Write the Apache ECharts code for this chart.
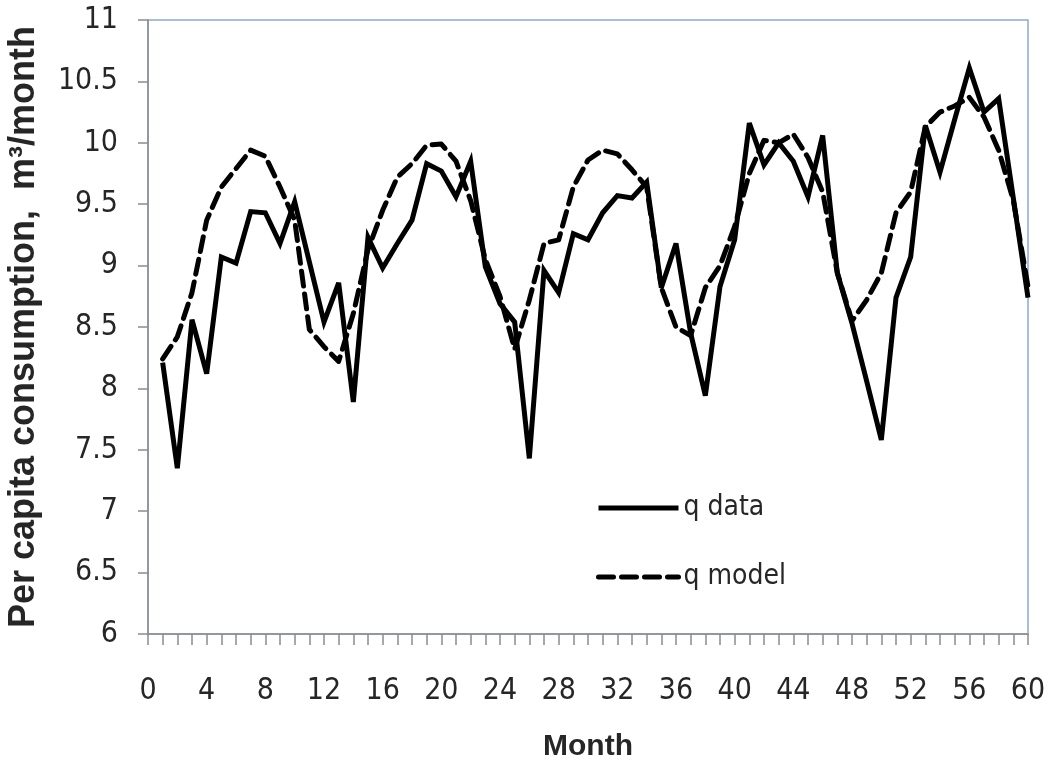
<!DOCTYPE html>
<html>
<head>
<meta charset="utf-8">
<script src="https://cdn.jsdelivr.net/npm/echarts@6/dist/echarts.min.js"></script>
<style>
html,body{margin:0;padding:0;background:#fff;}
#chart{width:1048px;height:761px;}
</style>
</head>
<body>
<div id="chart"></div>
<script>
var months = [1,2,3,4,5,6,7,8,9,10,11,12,13,14,15,16,17,18,19,20,
              21,22,23,24,25,26,27,28,29,30,31,32,33,34,35,36,37,38,39,40,
              41,42,43,44,45,46,47,48,49,50,51,52,53,54,55,56,57,58,59,60];
var qData = [8.21,7.35,8.56,8.12,9.07,9.02,9.44,9.43,9.18,9.52,
             9.03,8.54,8.86,7.89,9.23,8.98,9.18,9.37,9.83,9.77,
             9.56,9.85,8.99,8.69,8.54,7.43,8.96,8.78,9.26,9.21,
             9.43,9.57,9.55,9.68,8.82,9.18,8.45,7.94,8.83,9.21,
             10.16,9.82,10.0,9.85,9.56,10.06,8.94,8.53,8.06,7.58,
             8.74,9.07,10.14,9.76,10.19,10.61,10.25,10.36,9.55,8.74];
var qModel = [8.24,8.42,8.78,9.37,9.64,9.79,9.94,9.89,9.64,9.37,
              8.48,8.34,8.22,8.61,9.13,9.45,9.72,9.83,9.98,9.99,
              9.85,9.53,9.05,8.75,8.32,8.72,9.18,9.21,9.64,9.86,
              9.94,9.91,9.78,9.64,8.82,8.50,8.43,8.82,9.00,9.32,
              9.75,10.02,10.0,10.07,9.88,9.60,8.94,8.55,8.72,8.94,
              9.43,9.60,10.13,10.25,10.30,10.37,10.21,9.94,9.53,8.83];
var seriesNames = ['q data', 'q model'];
var xTitle = 'Month';
var yTitle = 'Per capita consumption,  m\u00b3/month';

function pairs(xs, ys){ return xs.map(function(x,i){ return [x, ys[i]]; }); }

var chart = echarts.init(document.getElementById('chart'), null, {renderer:'canvas'});
var axisColor = '#8c8c8c';
var textColor = '#262626';
var tickFont = '"Liberation Sans Narrow", "DejaVu Sans Condensed", sans-serif';
var titleFont = '"Liberation Sans", Arial, sans-serif';
var dashPattern = [15, 8];

chart.setOption({
  animation: false,
  backgroundColor: '#ffffff',
  grid: {
    left: 148, right: 20, top: 20, bottom: 127,
    outerBoundsMode: 'none', containLabel: false,
    show: true, borderColor: '#8aa8d8', borderWidth: 1.5, backgroundColor: 'transparent'
  },
  legend: {
    orient: 'vertical',
    left: 591, top: 488,
    itemWidth: 80, itemHeight: 30, itemGap: 39,
    itemStyle: { opacity: 0 },
    data: [
      { name: seriesNames[0], lineStyle: { color: '#000', width: 5, type: 'solid' } },
      { name: seriesNames[1], lineStyle: { color: '#000', width: 5, type: dashPattern } }
    ],
    textStyle: { fontFamily: tickFont, fontSize: 28, color: textColor, lineHeight: 30 }
  },
  xAxis: {
    type: 'value', min: 0, max: 60, interval: 1,
    name: xTitle, nameLocation: 'middle', nameGap: 98,
    nameTextStyle: { fontFamily: titleFont, fontWeight: 'bold', fontSize: 30, color: textColor },
    axisLine: { show: true, lineStyle: { color: axisColor, width: 1.5 } },
    axisTick: { show: true, inside: false, length: 11, lineStyle: { color: axisColor, width: 1.5 } },
    axisLabel: {
      margin: 42, fontFamily: tickFont, fontSize: 30, color: textColor,
      showMinLabel: true, showMaxLabel: true,
      formatter: function(v){ return (v % 4 === 0) ? String(v) : ''; }
    },
    splitLine: { show: false }
  },
  yAxis: {
    type: 'value', min: 6, max: 11, interval: 0.5,
    name: yTitle, nameLocation: 'middle', nameGap: 106, nameRotate: 90,
    nameTextStyle: { fontFamily: titleFont, fontWeight: 'bold', fontSize: 36, color: textColor },
    axisLine: { show: true, lineStyle: { color: axisColor, width: 1.5 } },
    axisTick: { show: true, inside: false, length: 10, lineStyle: { color: axisColor, width: 1.5 } },
    axisLabel: { margin: 30, fontFamily: tickFont, fontSize: 30, color: textColor },
    splitLine: { show: false }
  },
  series: [
    {
      name: seriesNames[0], type: 'line', data: pairs(months, qData),
      symbol: 'none', smooth: false,
      lineStyle: { color: '#000', width: 5, type: 'solid', join: 'miter', miterLimit: 4 },
      itemStyle: { color: '#000' }
    },
    {
      name: seriesNames[1], type: 'line', data: pairs(months, qModel),
      symbol: 'none', smooth: false,
      lineStyle: { color: '#000', width: 5, type: dashPattern, cap: 'round', join: 'round' },
      itemStyle: { color: '#000' }
    }
  ]
});
</script>
</body>
</html>
